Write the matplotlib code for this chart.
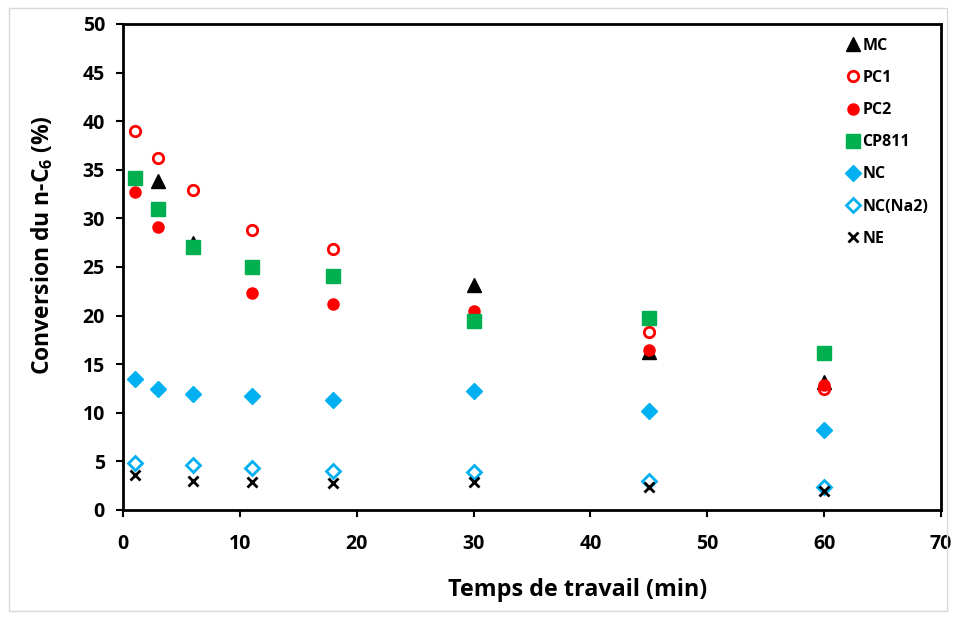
import matplotlib
matplotlib.use("Agg")
import matplotlib.pyplot as plt
from matplotlib.patches import Rectangle

plt.rcParams['font.family'] = ['Open Sans', 'DejaVu Sans']
plt.rcParams['font.weight'] = 'bold'
plt.rcParams['mathtext.fontset'] = 'custom'
plt.rcParams['mathtext.rm'] = 'Open Sans:bold'
plt.rcParams['mathtext.bf'] = 'Open Sans:bold'

# Data
t_MC = [3, 6, 30, 45, 60]
MC = [33.8, 27.5, 23.1, 16.3, 13.2]
t_PC1 = [1, 3, 6, 11, 18, 45, 60]
PC1 = [39.0, 36.2, 32.9, 28.8, 26.8, 18.3, 12.4]
t_PC2 = [1, 3, 11, 18, 30, 45, 60]
PC2 = [32.7, 29.1, 22.3, 21.2, 20.5, 16.5, 12.9]
t_CP811 = [1, 3, 6, 11, 18, 30, 45, 60]
CP811 = [34.2, 31.0, 27.1, 25.0, 24.1, 19.4, 19.7, 16.2]
t_NC = [1, 3, 6, 11, 18, 30, 45, 60]
NC = [13.5, 12.4, 11.9, 11.7, 11.3, 12.2, 10.2, 8.2]
t_NCNa2 = [1, 6, 11, 18, 30, 45, 60]
NCNa2 = [4.8, 4.6, 4.3, 4.0, 3.9, 3.0, 2.4]
t_NE = [1, 6, 11, 18, 30, 45, 60]
NE = [3.6, 3.0, 2.9, 2.8, 2.9, 2.4, 2.0]

x_ticks = [0, 10, 20, 30, 40, 50, 60, 70]
y_ticks = [0, 5, 10, 15, 20, 25, 30, 35, 40, 45, 50]

red = '#FF0000'
green = '#00B050'
blue = '#00B0F0'

fig = plt.figure(figsize=(9.56, 6.18), dpi=100)
fig.patches.append(Rectangle((0.009, 0.011), 0.982, 0.976, transform=fig.transFigure,
                             fill=False, edgecolor='#D9D9D9', linewidth=1.0))
ax = fig.add_axes([0.1287, 0.1748, 0.8556, 0.7864])

ax.plot(t_MC, MC, linestyle='none', marker='^', ms=10, color='black', label='MC')
ax.plot(t_PC1, PC1, linestyle='none', marker='o', ms=7.5, mfc='white', mec=red, mew=2, label='PC1')
ax.plot(t_PC2, PC2, linestyle='none', marker='o', ms=8, color=red, label='PC2')
ax.plot(t_CP811, CP811, linestyle='none', marker='s', ms=10.5, color=green, label='CP811')
ax.plot(t_NC, NC, linestyle='none', marker='D', ms=8.5, color=blue, label='NC')
ax.plot(t_NCNa2, NCNa2, linestyle='none', marker='D', ms=7.5, mfc='white', mec=blue, mew=2, label='NC(Na2)')
ax.plot(t_NE, NE, linestyle='none', marker='x', ms=7, color='black', mew=2, label='NE')

ax.set_xlim(0, 70)
ax.set_ylim(0, 50)
ax.set_xticks(x_ticks)
ax.set_yticks(y_ticks)
for s in ax.spines.values():
    s.set_linewidth(2)
ax.tick_params(direction='out', length=5, width=1.5, labelsize=14)
ax.tick_params(axis='x', pad=12)
ax.tick_params(axis='y', pad=8)
for lab in ax.get_xticklabels() + ax.get_yticklabels():
    lab.set_fontweight('bold')

ax.set_xlabel('Temps de travail (min)', fontsize=16.8, fontweight='bold', va='center')
ax.xaxis.set_label_coords(0.556, -0.165)
ax.set_ylabel(r'Conversion du n-C$_6$ (%)', fontsize=16.5, fontweight='bold', va='center')
ax.yaxis.set_label_coords(-0.099, 0.545)

leg = ax.legend(loc='upper right', bbox_to_anchor=(0.996, 0.991), frameon=False,
                labelspacing=1.01, handlelength=0.6, handletextpad=0.25,
                borderaxespad=0.2, prop={'weight': 'bold', 'size': 11.5})

fig.savefig('out.png', dpi=100)
